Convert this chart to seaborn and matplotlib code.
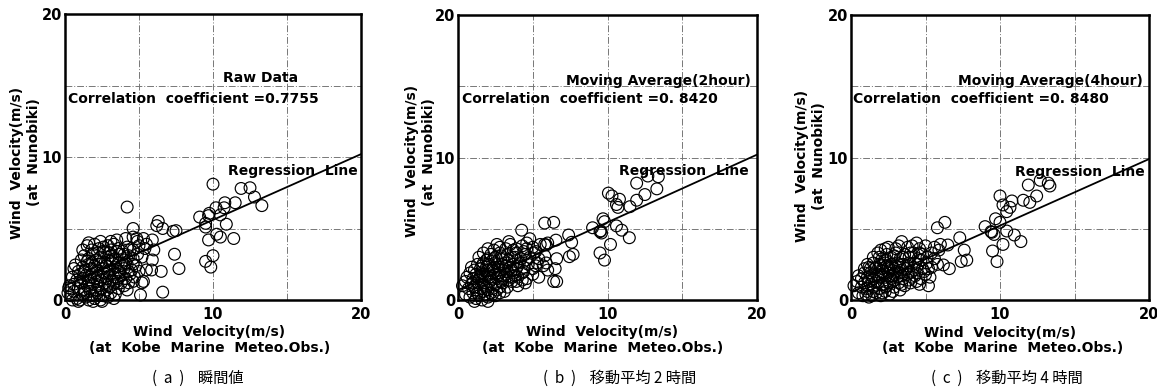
import matplotlib
matplotlib.use("Agg")
import matplotlib.pyplot as plt
import seaborn as sns
import pandas as pd

sns.set_theme(style="white")
plt.rcParams['font.family'] = ['DejaVu Sans', 'Noto Sans CJK JP']
plt.rcParams['text.color'] = 'black'
plt.rcParams['xtick.color'] = 'black'
plt.rcParams['ytick.color'] = 'black'

# ---------------- data ----------------
panel_titles = ["Raw Data", "Moving Average(2hour)", "Moving Average(4hour)"]
corr_texts = ["Correlation  coefficient =0.7755",
              "Correlation  coefficient =0. 8420",
              "Correlation  coefficient =0. 8480"]
captions = ["(  a  )    瞬間値", "(  b  )    移動平均 2 時間", "(  c  )    移動平均 4 時間"]
reg_slope = [0.46, 0.475, 0.467]
reg_intercept = [1.0, 0.7, 0.55]
axis_ticks = [0, 5, 10, 15, 20]
axis_ticklabels = ["0", "", "10", "", "20"]

points_a = [
    # dense cluster
    (0.2,0.5),(0.4,0.3),(0.6,0.6),(0.8,0.1),(1.0,0.0),(1.2,0.4),(1.4,0.2),(1.6,0.0),(1.8,0.3),(2.0,0.1),
    (2.2,0.5),(2.4,0.0),(2.6,0.3),(2.9,0.2),(3.1,0.5),(0.9,-0.1),(1.9,-0.1),(2.5,-0.1),
    (0.3,1.0),(0.6,1.1),(0.9,0.8),(1.1,1.2),(1.3,0.7),(1.5,1.0),(1.7,0.8),(1.9,1.1),(2.1,0.7),(2.3,1.0),
    (2.5,0.8),(2.7,1.2),(3.0,0.9),(3.3,1.1),(3.6,0.8),(4.0,1.0),(4.3,1.2),(0.25,0.85),
    (0.5,1.6),(0.8,1.4),(1.0,1.8),(1.2,1.5),(1.4,1.7),(1.6,1.4),(1.8,1.8),(2.0,1.5),(2.2,1.7),(2.4,1.4),
    (2.6,1.9),(2.8,1.5),(3.0,1.7),(3.2,1.4),(3.4,1.8),(3.6,1.5),(3.8,1.7),(4.1,1.5),(4.4,1.8),(4.7,1.6),
    (0.6,2.2),(0.9,2.0),(1.2,2.3),(1.4,2.1),(1.6,2.5),(1.8,2.2),(2.0,2.4),(2.2,2.1),(2.4,2.5),(2.6,2.2),
    (2.8,2.4),(3.0,2.1),(3.2,2.6),(3.4,2.3),(3.6,2.0),(3.8,2.4),(4.0,2.2),(4.2,2.5),(4.5,2.1),(4.8,2.4),
    (5.0,2.0),(0.7,2.45),
    (1.1,2.8),(1.3,3.1),(1.6,2.9),(1.9,3.2),(2.1,2.8),(2.4,3.0),(2.7,3.3),(2.9,2.8),(3.1,3.1),(3.4,2.9),
    (3.7,3.2),(4.0,2.8),(4.3,3.1),(4.6,2.9),(4.9,3.2),(5.2,3.0),
    (1.5,3.8),(1.8,3.5),(2.0,3.9),(2.3,3.6),(2.6,3.4),(2.9,3.8),(3.1,3.5),(3.3,3.9),(3.6,3.6),(3.9,3.4),
    (4.2,3.7),(4.6,3.5),(5.0,3.8),(5.4,3.6),
    (1.6,4.0),(2.4,4.1),(3.1,4.1),(3.5,4.2),(4.1,4.3),(4.6,4.4),(4.9,4.1),(5.3,4.3),(5.5,3.9),
    (5.2,1.2),(5.1,0.35),
    (1.3,0.5),(1.7,0.6),(2.3,0.3),(2.8,0.7),(3.4,0.4),(1.0,1.3),(1.6,1.2),(2.2,1.3),(2.9,1.1),(3.5,1.3),
    (4.2,0.7),(1.3,2.0),(1.7,1.6),(2.1,1.9),(2.5,1.6),(2.9,2.0),(3.3,1.6),(3.7,1.9),(4.3,2.0),(1.5,2.7),
    (1.8,2.6),(2.3,2.7),(2.7,2.6),(3.2,2.8),(3.6,2.6),(4.1,2.6),(4.6,2.5),(2.2,3.3),(2.6,3.7),(3.0,3.3),
    (3.5,3.4),(4.0,3.2),(4.4,3.5),(1.2,3.5),(0.5,0.0),(3.3,0.1),(3.8,1.2),(4.6,1.3),
    # sparse points
    (4.2,6.5),(4.6,5.0),(4.85,4.3),(5.9,4.2),(6.0,3.5),(5.9,2.8),(5.85,2.1),(5.3,1.3),(5.5,2.1),
    (6.3,5.5),(6.2,5.2),(6.6,5.0),(6.6,0.55),(6.5,2.0),(7.3,4.8),(7.5,4.85),(7.4,3.2),(7.7,2.2),
    (10.0,8.1),(11.9,7.8),(12.5,7.85),(12.8,7.2),(13.3,6.6),(10.8,6.8),(11.5,6.8),(10.75,6.45),
    (10.2,6.45),(10.5,5.95),(9.75,6.06),(9.7,5.9),(9.1,5.8),(9.5,5.36),(9.5,5.1),(10.9,5.3),
    (10.25,4.6),(10.5,4.4),(9.7,4.2),(11.4,4.3),(10.0,3.1),(9.5,2.7),(9.85,2.3),
]

points_b = [
    (0.5,0.4),(0.8,0.2),(1.0,0.5),(1.2,0.1),(1.4,0.3),(1.6,0.0),(1.8,0.4),(2.0,0.2),(2.2,0.5),(2.5,0.3),
    (1.1,-0.1),(2.0,-0.1),(2.8,0.5),
    (0.3,1.0),(0.5,1.3),(0.7,0.8),(0.9,1.1),(1.1,0.9),(1.3,1.2),(1.5,0.8),(1.7,1.1),(1.9,0.9),(2.1,1.3),
    (2.3,0.8),(2.5,1.1),(2.8,0.9),(3.0,1.2),(3.3,0.9),(3.6,1.3),(4.0,1.0),(4.5,1.2),(2.0,0.7),(1.2,0.7),
    (0.6,1.6),(0.8,1.9),(1.0,1.5),(1.2,1.8),(1.4,1.5),(1.6,1.9),(1.8,1.6),(2.0,1.8),(2.2,1.5),(2.4,2.0),
    (2.6,1.6),(2.8,1.9),(3.0,1.5),(3.2,1.8),(3.4,1.6),(3.7,1.9),(4.0,1.6),(4.3,1.9),(4.6,1.5),(5.0,1.8),
    (5.4,1.6),(1.5,1.7),(2.7,1.75),
    (0.9,2.3),(1.1,2.1),(1.3,2.5),(1.5,2.2),(1.7,2.6),(1.9,2.3),(2.1,2.5),(2.3,2.2),(2.5,2.6),(2.7,2.3),
    (2.9,2.5),(3.1,2.2),(3.3,2.6),(3.5,2.3),(3.7,2.5),(3.9,2.2),(4.1,2.6),(4.4,2.3),(4.7,2.5),(5.0,2.2),
    (5.3,2.6),(5.7,2.4),(6.0,2.1),(6.4,1.3),(2.0,2.4),
    (1.4,3.0),(1.7,3.3),(2.0,2.9),(2.2,3.2),(2.5,3.0),(2.8,3.3),(3.0,2.9),(3.3,3.2),(3.6,3.0),(3.9,3.3),
    (4.2,2.9),(4.5,3.2),(4.8,3.0),(5.1,3.3),(5.4,2.9),(5.8,3.1),
    (2.0,3.6),(2.4,3.5),(2.8,3.7),(3.2,3.6),(3.5,3.9),(3.9,3.6),(4.3,3.8),(4.6,4.0),(5.0,3.7),(5.5,3.9),
    (4.8,4.3),(6.0,4.0),(3.4,4.1),(4.6,3.6),(5.8,3.9),(6.6,2.9),
    (1.3,0.5),(1.7,0.6),(2.3,0.4),(2.6,0.7),(3.1,0.6),(1.0,1.2),(1.6,1.3),(2.2,1.1),(2.9,1.3),(3.4,1.4),
    (3.9,1.3),(1.3,1.6),(1.7,1.8),(2.1,1.6),(2.5,1.8),(2.9,1.7),(3.3,2.0),(3.8,1.7),(4.4,2.0),(1.6,2.4),
    (2.0,2.1),(2.4,2.3),(2.8,2.1),(3.2,2.4),(3.6,2.1),(4.0,2.4),(4.6,2.8),(1.9,2.8),(2.4,2.9),(2.9,3.1),
    (3.4,2.8),(3.8,3.0),(4.4,3.4),(5.2,3.4),(2.6,3.9),(3.7,3.5),(5.2,2.4),(4.3,1.4),
    # sparse points
    (4.26,4.9),(5.8,5.4),(6.4,5.45),(6.55,4.2),(7.4,4.56),(7.6,4.05),(7.45,3.04),(7.7,3.2),(5.9,3.86),
    (6.6,1.3),(6.5,2.2),(5.9,2.6),
    (10.06,7.5),(10.3,7.3),(10.8,7.07),(10.6,6.7),(10.7,6.5),(11.5,6.55),(11.95,7.0),(12.5,7.4),
    (13.3,7.8),(11.95,8.2),(12.7,8.7),(13.4,8.65),(9.7,5.7),(9.8,5.5),(9.5,4.8),(9.55,4.85),(9.6,4.7),
    (9.0,5.07),(10.6,5.2),(10.95,4.9),(11.46,4.37),(10.2,3.9),(9.5,3.3),(9.8,2.8),
]

points_c = [
    (0.5,0.5),(0.8,0.3),(1.1,0.6),(1.4,0.3),(1.7,0.5),(2.0,0.3),(2.3,0.6),(2.6,0.4),(1.2,0.2),
    (0.2,1.0),(0.4,1.3),(0.7,0.9),(0.9,1.2),(1.1,0.8),(1.3,1.1),(1.5,0.9),(1.7,1.3),(1.9,0.8),(2.1,1.1),
    (2.3,0.9),(2.6,1.2),(2.9,0.9),(3.2,1.2),(3.6,1.0),(4.0,1.2),(4.6,1.1),(5.2,1.0),
    (0.5,1.7),(0.7,1.5),(0.9,1.9),(1.1,1.6),(1.3,1.9),(1.5,1.5),(1.7,1.8),(1.9,1.6),(2.1,2.0),(2.3,1.6),
    (2.5,1.9),(2.7,1.5),(2.9,1.8),(3.1,1.6),(3.3,1.9),(3.5,1.5),(3.8,1.8),(4.1,1.6),(4.4,1.9),(4.7,1.5),
    (5.0,1.8),(5.3,1.6),(1.8,1.7),(2.8,1.7),
    (0.9,2.2),(1.1,2.5),(1.3,2.2),(1.5,2.6),(1.7,2.3),(1.9,2.5),(2.1,2.2),(2.3,2.6),(2.5,2.3),(2.7,2.5),
    (2.9,2.2),(3.1,2.6),(3.3,2.3),(3.5,2.5),(3.7,2.2),(3.9,2.6),(4.2,2.3),(4.5,2.5),(4.8,2.2),(5.1,2.6),
    (5.4,2.3),(5.8,2.5),(2.4,2.4),
    (1.5,3.0),(1.8,3.3),(2.1,2.9),(2.4,3.2),(2.7,3.0),(3.0,3.3),(3.3,2.9),(3.6,3.2),(3.9,3.0),(4.2,3.3),
    (4.5,2.9),(4.8,3.2),(5.1,3.0),(5.4,3.3),
    (2.0,3.5),(2.5,3.7),(3.0,3.6),(3.4,4.1),(3.8,3.7),(4.1,3.8),(4.6,3.6),(5.0,3.8),(5.6,3.7),(6.0,3.9),
    (1.0,0.4),(1.5,0.6),(2.1,0.5),(2.8,0.6),(3.3,0.7),(1.2,1.3),(1.8,1.2),(2.4,1.0),(2.8,1.3),(3.4,1.1),
    (3.9,1.4),(4.4,1.3),(1.4,1.7),(2.0,1.8),(2.6,1.7),(3.0,2.0),(3.4,1.7),(3.9,1.9),(4.3,1.7),(4.9,2.0),
    (1.2,2.3),(1.6,2.2),(2.0,2.4),(2.6,2.2),(3.0,2.4),(3.4,2.1),(3.8,2.4),(4.3,2.6),(4.7,2.8),(5.2,2.2),
    (1.9,3.0),(2.3,2.8),(2.9,3.1),(3.5,3.0),(4.0,3.3),(4.6,3.3),(5.6,2.9),(3.2,3.8),(4.4,4.0),(2.3,3.6),
    # sparse points
    (6.3,5.45),(5.8,5.07),(7.3,4.37),(6.5,3.86),(7.6,3.5),(7.4,2.7),(7.77,2.8),(6.2,2.46),(6.6,2.2),
    (5.9,3.5),
    (13.24,8.2),(13.35,8.0),(12.7,8.4),(11.9,8.07),(12.46,7.3),(11.56,7.0),(12.0,6.85),(10.8,6.95),
    (10.0,7.3),(10.2,6.67),(10.67,6.5),(10.45,6.2),(9.7,5.7),(10.0,5.45),(9.0,5.15),(9.4,4.8),
    (9.6,4.6),(9.45,4.75),(10.45,4.84),(10.96,4.56),(11.4,4.1),(10.2,3.9),(9.5,3.44),(9.8,2.7),
]
all_points = [points_a, points_b, points_c]

# ---------------- layout ----------------
W, H = 1157, 388
fig = plt.figure(figsize=(W / 100, H / 100), dpi=100)
boxes = [(65, 14, 361, 300), (458, 15, 757, 300), (851, 15, 1149, 300)]
title_pos = [(10.7, 15.5), (7.2, 15.4), (7.2, 15.4)]
corr_pos = [(0.2, 14.05), (0.25, 14.1), (0.15, 14.1)]
reg_pos = [(11.0, 9.0), (10.8, 9.05), (11.0, 9.0)]
xlab_pos = [(209, 332, 210, 348), (602, 332, 603, 348), (1000, 333, 1003, 348)]
ylab_pos = [(17, 163, 34, 152), (412, 161, 429, 152), (802, 166, 819, 156)]
cap_pos = [198, 620, 1007]

for i, (l, t, r, b) in enumerate(boxes):
    ax = fig.add_axes([l / W, 1 - b / H, (r - l) / W, (b - t) / H])
    df = pd.DataFrame(all_points[i], columns=["x", "y"])
    sns.scatterplot(data=df, x="x", y="y", ax=ax, marker="o", s=72,
                    facecolor="none", edgecolor="black", linewidth=0.85,
                    clip_on=False, zorder=3, legend=False)
    line_df = pd.DataFrame({"x": [0, 20]})
    line_df["y"] = reg_intercept[i] + reg_slope[i] * line_df["x"]
    sns.lineplot(data=line_df, x="x", y="y", ax=ax, color="black", linewidth=1.3, zorder=4)
    ax.set_xlim(0, 20)
    ax.set_ylim(0, 20)
    ax.set_xticks(axis_ticks)
    ax.set_yticks(axis_ticks)
    ax.set_xticklabels(axis_ticklabels, fontweight="bold", fontsize=10.5)
    ax.set_yticklabels(axis_ticklabels, fontweight="bold", fontsize=10.5)
    ax.tick_params(axis="x", length=0, pad=5)
    ax.tick_params(axis="y", length=0, pad=2)
    ax.grid(True, color="#777777", linestyle=(0, (7, 2, 1, 2)), linewidth=0.7)
    for sp in ax.spines.values():
        sp.set_linewidth(1.8)
        sp.set_color("black")
    ax.set_xlabel("")
    ax.set_ylabel("")
    ax.text(*title_pos[i], panel_titles[i], fontsize=10, fontweight="bold", va="center", zorder=5)
    ax.text(*corr_pos[i], corr_texts[i], fontsize=10, fontweight="bold", va="center", zorder=5)
    ax.text(*reg_pos[i], "Regression  Line", fontsize=10, fontweight="bold", va="center", zorder=5)

    x1, y1, x2, y2 = xlab_pos[i]
    fig.text(x1 / W, 1 - y1 / H, "Wind  Velocity(m/s)", ha="center", va="center",
             fontsize=10, fontweight="bold")
    fig.text(x2 / W, 1 - y2 / H, "(at  Kobe  Marine  Meteo.Obs.)", ha="center", va="center",
             fontsize=10, fontweight="bold")
    x1, y1, x2, y2 = ylab_pos[i]
    fig.text(x1 / W, 1 - y1 / H, "Wind  Velocity(m/s)", ha="center", va="center",
             rotation=90, fontsize=10, fontweight="bold")
    fig.text(x2 / W, 1 - y2 / H, "(at  Nunobiki)", ha="center", va="center",
             rotation=90, fontsize=10, fontweight="bold")
    fig.text(cap_pos[i] / W, 1 - 378 / H, captions[i], ha="center", va="center",
             fontsize=11, family=["Noto Sans CJK JP", "DejaVu Sans"])

fig.savefig("out.png", dpi=100, facecolor="white")
